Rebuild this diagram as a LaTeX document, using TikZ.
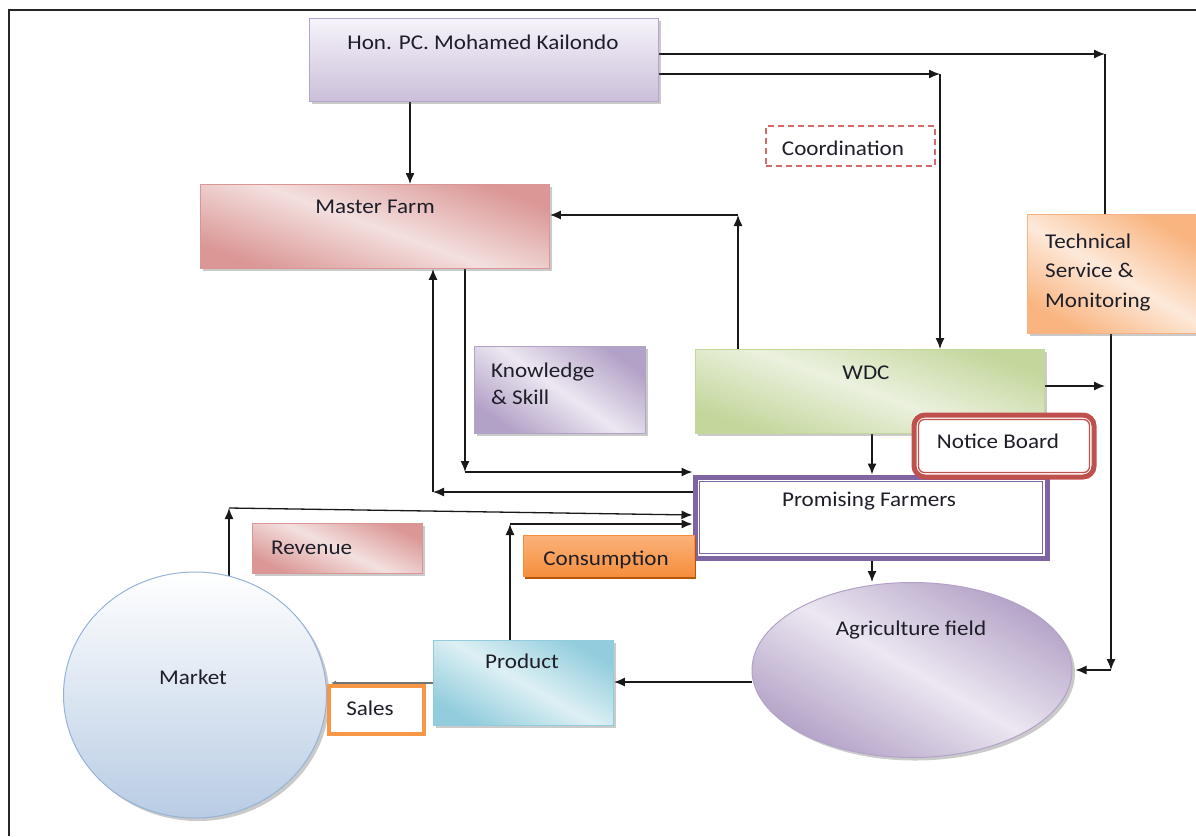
\documentclass[tikz,border=0pt]{standalone}
\usepackage{fontspec}
\setmainfont{Carlito}[FakeStretch=1.1]
\usetikzlibrary{arrows.meta,shapes.geometric,shadows,calc}
\pgfdeclarelayer{bg}
\pgfsetlayers{bg,main}

\definecolor{honA}{HTML}{F6F3FA}
\definecolor{honB}{HTML}{CBBFDA}
\definecolor{honD}{HTML}{B6A5CE}
\definecolor{redA}{HTML}{DA9795}
\definecolor{redB}{HTML}{F3E0DF}
\definecolor{redD}{HTML}{D99694}
\definecolor{oraA}{HTML}{F9B47F}
\definecolor{oraB}{HTML}{FDE9D9}
\definecolor{oraD}{HTML}{F4B183}
\definecolor{vioA}{HTML}{B3A2C7}
\definecolor{vioB}{HTML}{ECE7F1}
\definecolor{greA}{HTML}{C3D69B}
\definecolor{greB}{HTML}{EBF1DE}
\definecolor{cyaA}{HTML}{93CDDD}
\definecolor{cyaB}{HTML}{DDF0F4}
\definecolor{bluA}{HTML}{FFFFFF}
\definecolor{bluB}{HTML}{B8CCE4}
\definecolor{bluD}{HTML}{95B3D7}
\definecolor{conA}{HTML}{FAB27A}
\definecolor{conB}{HTML}{F68E3C}
\definecolor{conD}{HTML}{B65708}
\definecolor{nbRed}{HTML}{C0504D}
\definecolor{pfVio}{HTML}{8064A2}
\definecolor{salOr}{HTML}{F79646}
\definecolor{dashRed}{HTML}{D46A68}
\definecolor{ink}{HTML}{1E1E28}

\begin{document}
\begin{tikzpicture}[x=1pt,y=-1pt,
  box/.style={rectangle, anchor=north west, inner sep=0, line width=0.9pt},
  shad/.style={drop shadow={shadow xshift=3pt, shadow yshift=-3pt, opacity=0.35, fill=black!60}},
  grad/.style n args={3}{top color=#1, bottom color=#1, middle color=#2, shading angle=#3},
  txt/.style={inner sep=0, text=ink, font=\fontsize{21}{28}\selectfont},
  ln/.style={line width=1.3pt, draw=black!90},
  arr/.style={ln, -{Latex[length=11pt,width=9pt]}},
  arrsmall/.style={line width=1.3pt, draw=black!55, -{Latex[length=5pt,width=5pt]}}
]
\useasboundingbox (0,0) rectangle (1196,836);

% outer frame
\draw[line width=1.6pt, black!85] (9,836) -- (9,10) -- (1196,10);

% ---------- boxes ----------
\node[box, shad, draw=honD, top color=honA, bottom color=honB,
      minimum width=349, minimum height=83] (hon) at (309,18) {};
\node[txt, anchor=base] (hon-t) at (483,49) {Hon. PC. Mohamed Kailondo};

\node[box, shad, draw=redD, grad={redA}{redB}{-20},
      minimum width=349, minimum height=84] (master) at (200,184) {};
\node[txt, anchor=base] (master-t) at (375,213) {Master Farm};

\node[box, draw=dashRed, line width=1.6pt, dash pattern=on 6pt off 4pt,
      minimum width=169, minimum height=40] (coord) at (765,125) {};
\node[txt, anchor=base] (coord-t) at (843,155) {Coordination};

\node[box, shad, draw=oraD, grad={oraA}{oraB}{-30},
      minimum width=172, minimum height=119] (tech) at (1027,214) {};
\node[txt, anchor=base west] (tech-t1) at (1045,248) {Technical};
\node[txt, anchor=base west] (tech-t2) at (1045,277) {Service \&};
\node[txt, anchor=base west] (tech-t3) at (1045,307) {Monitoring};

\node[box, shad, draw=vioA, grad={vioA}{vioB}{-35},
      minimum width=171, minimum height=87] (know) at (474,346) {};
\node[txt, anchor=base west] (know-t1) at (491,377) {Knowledge};
\node[txt, anchor=base west] (know-t2) at (491,404) {\& Skill};

\node[box, shad, draw=greA, grad={greA}{greB}{-20},
      minimum width=349, minimum height=84] (wdc) at (695,349) {};
\node[txt, anchor=base] (wdc-t) at (866,379) {WDC};

% Promising Farmers: heavy frame with a thin inner rule
\node[box, draw=pfVio, line width=5pt, fill=white,
      minimum width=352, minimum height=81] (pf) at (692.5,474.5) {};
\draw[pfVio, line width=1.3pt] ($(pf.north west)+(7,7)$) rectangle ($(pf.south east)+(-7,-7)$);
\node[txt, anchor=base] (pf-t) at (869,506) {Promising Farmers};

% Notice Board: rounded heavy frame with a thin inner rule
\node[box, draw=nbRed, line width=5pt, fill=white, rounded corners=11pt,
      minimum width=180, minimum height=62] (nb) at (911.5,412.5) {};
\draw[nbRed, line width=1.3pt, rounded corners=6pt]
  ($(nb.north west)+(7,7)$) rectangle ($(nb.south east)+(-7,-7)$);
\node[txt, anchor=base] (nb-t) at (998,448) {Notice Board};

\node[box, shad, draw=redD, grad={redA}{redB}{-25},
      minimum width=170, minimum height=50] (rev) at (252,523) {};
\node[txt, anchor=base west] (rev-t) at (271,554) {Revenue};

\node[box, draw=conB, top color=conA, bottom color=conB,
      drop shadow={shadow xshift=2pt, shadow yshift=-3pt, opacity=1, fill=conD},
      minimum width=171, minimum height=41] (cons) at (523,535) {};
\node[txt, anchor=base] (cons-t) at (606,565) {Consumption};

\node[ellipse, shad, draw=vioA, line width=1pt, grad={vioA}{vioB}{-30},
      minimum width=320, minimum height=175, inner sep=0] (agri) at (912,670) {};
\node[txt, anchor=base] (agri-t) at (911,635) {Agriculture field};

\node[box, shad, draw=cyaA, grad={cyaA}{cyaB}{-30},
      minimum width=180, minimum height=85] (prod) at (433,640) {};
\node[txt, anchor=base] (prod-t) at (522,668) {Product};

\node[ellipse, shad, draw=bluD, line width=1pt, top color=bluA, bottom color=bluB,
      minimum width=263, minimum height=246, inner sep=0] (market) at (195,695) {};
\node[txt, anchor=base] (market-t) at (193,684) {Market};

\node[box, draw=salOr, line width=4pt, fill=white,
      minimum width=95, minimum height=48] (sales) at (327,684) {};
\node[txt, anchor=base] (sales-t) at (370,715) {Sales};

% ---------- connectors ----------
\coordinate (j1) at (1105,54);
\coordinate (j2) at (940,74);
\coordinate (chm) at (410,0);
\coordinate (cwm) at (738,215);
\coordinate (cmp) at (465,472);
\coordinate (cpm) at (433,492);
\coordinate (cmk) at (229,508);
\coordinate (cmk0) at (229,576);
\coordinate (rmk) at (0,515);
\coordinate (cpr) at (510,524);
\coordinate (cwp) at (872,0);
\coordinate (rap) at (0,682);
\coordinate (cwt) at (1105,386);
\coordinate (cta) at (1111,670);
\coordinate (cps) at (331,683);

\begin{pgfonlayer}{bg}
  % from the Hon. PC. to technical service and to WDC
  \draw[arr] (hon.east |- j1) -- (j1);
  \draw[ln] (j1) -- (tech.north -| j1);
  \draw[arr] (hon.east |- j2) -- (j2);
  \draw[arr] (j2) -- (wdc.north -| j2);
  \draw[arr] (hon.south -| chm) -- (master.north -| chm);
  % WDC up to the master farm
  \draw[arr] (wdc.north -| cwm) -- (cwm);
  \draw[arr] (cwm) -- (master.east |- cwm);
  % master farm <-> promising farmers
  \draw[arr] (master.south -| cmp) -- (cmp);
  \draw[arr] (cmp) -- (pf.west |- cmp);
  \draw[arr] (pf.west |- cpm) -- (cpm);
  \draw[arr] (cpm) -- (master.south -| cpm);
  % revenue and consumption back to the farmers
  \draw[arr] (cmk0) -- (cmk);
  \draw[arr] (cmk) -- (pf.west |- rmk);
  \draw[arr] (prod.north -| cpr) -- (cpr);
  \draw[arr] (cpr) -- (pf.west |- cpr);
  % down the chain
  \draw[arr] (wdc.south -| cwp) -- (pf.north -| cwp);
  \draw[arr] (pf.south -| cwp) -- (agri.north -| cwp);
  \draw[arr] (agri.west |- rap) -- (prod.east |- rap);
  \draw[arrsmall] (prod.west |- cps) -- (cps);
  % WDC and technical service towards the field
  \draw[arr] (wdc.east |- cwt) -- (cwt);
  \draw[arr] (tech.south -| cta) -- (cta);
  \draw[arr] (cta) -- ($(agri.east |- cta)+(3,0)$);
\end{pgfonlayer}
\end{tikzpicture}
\end{document}
